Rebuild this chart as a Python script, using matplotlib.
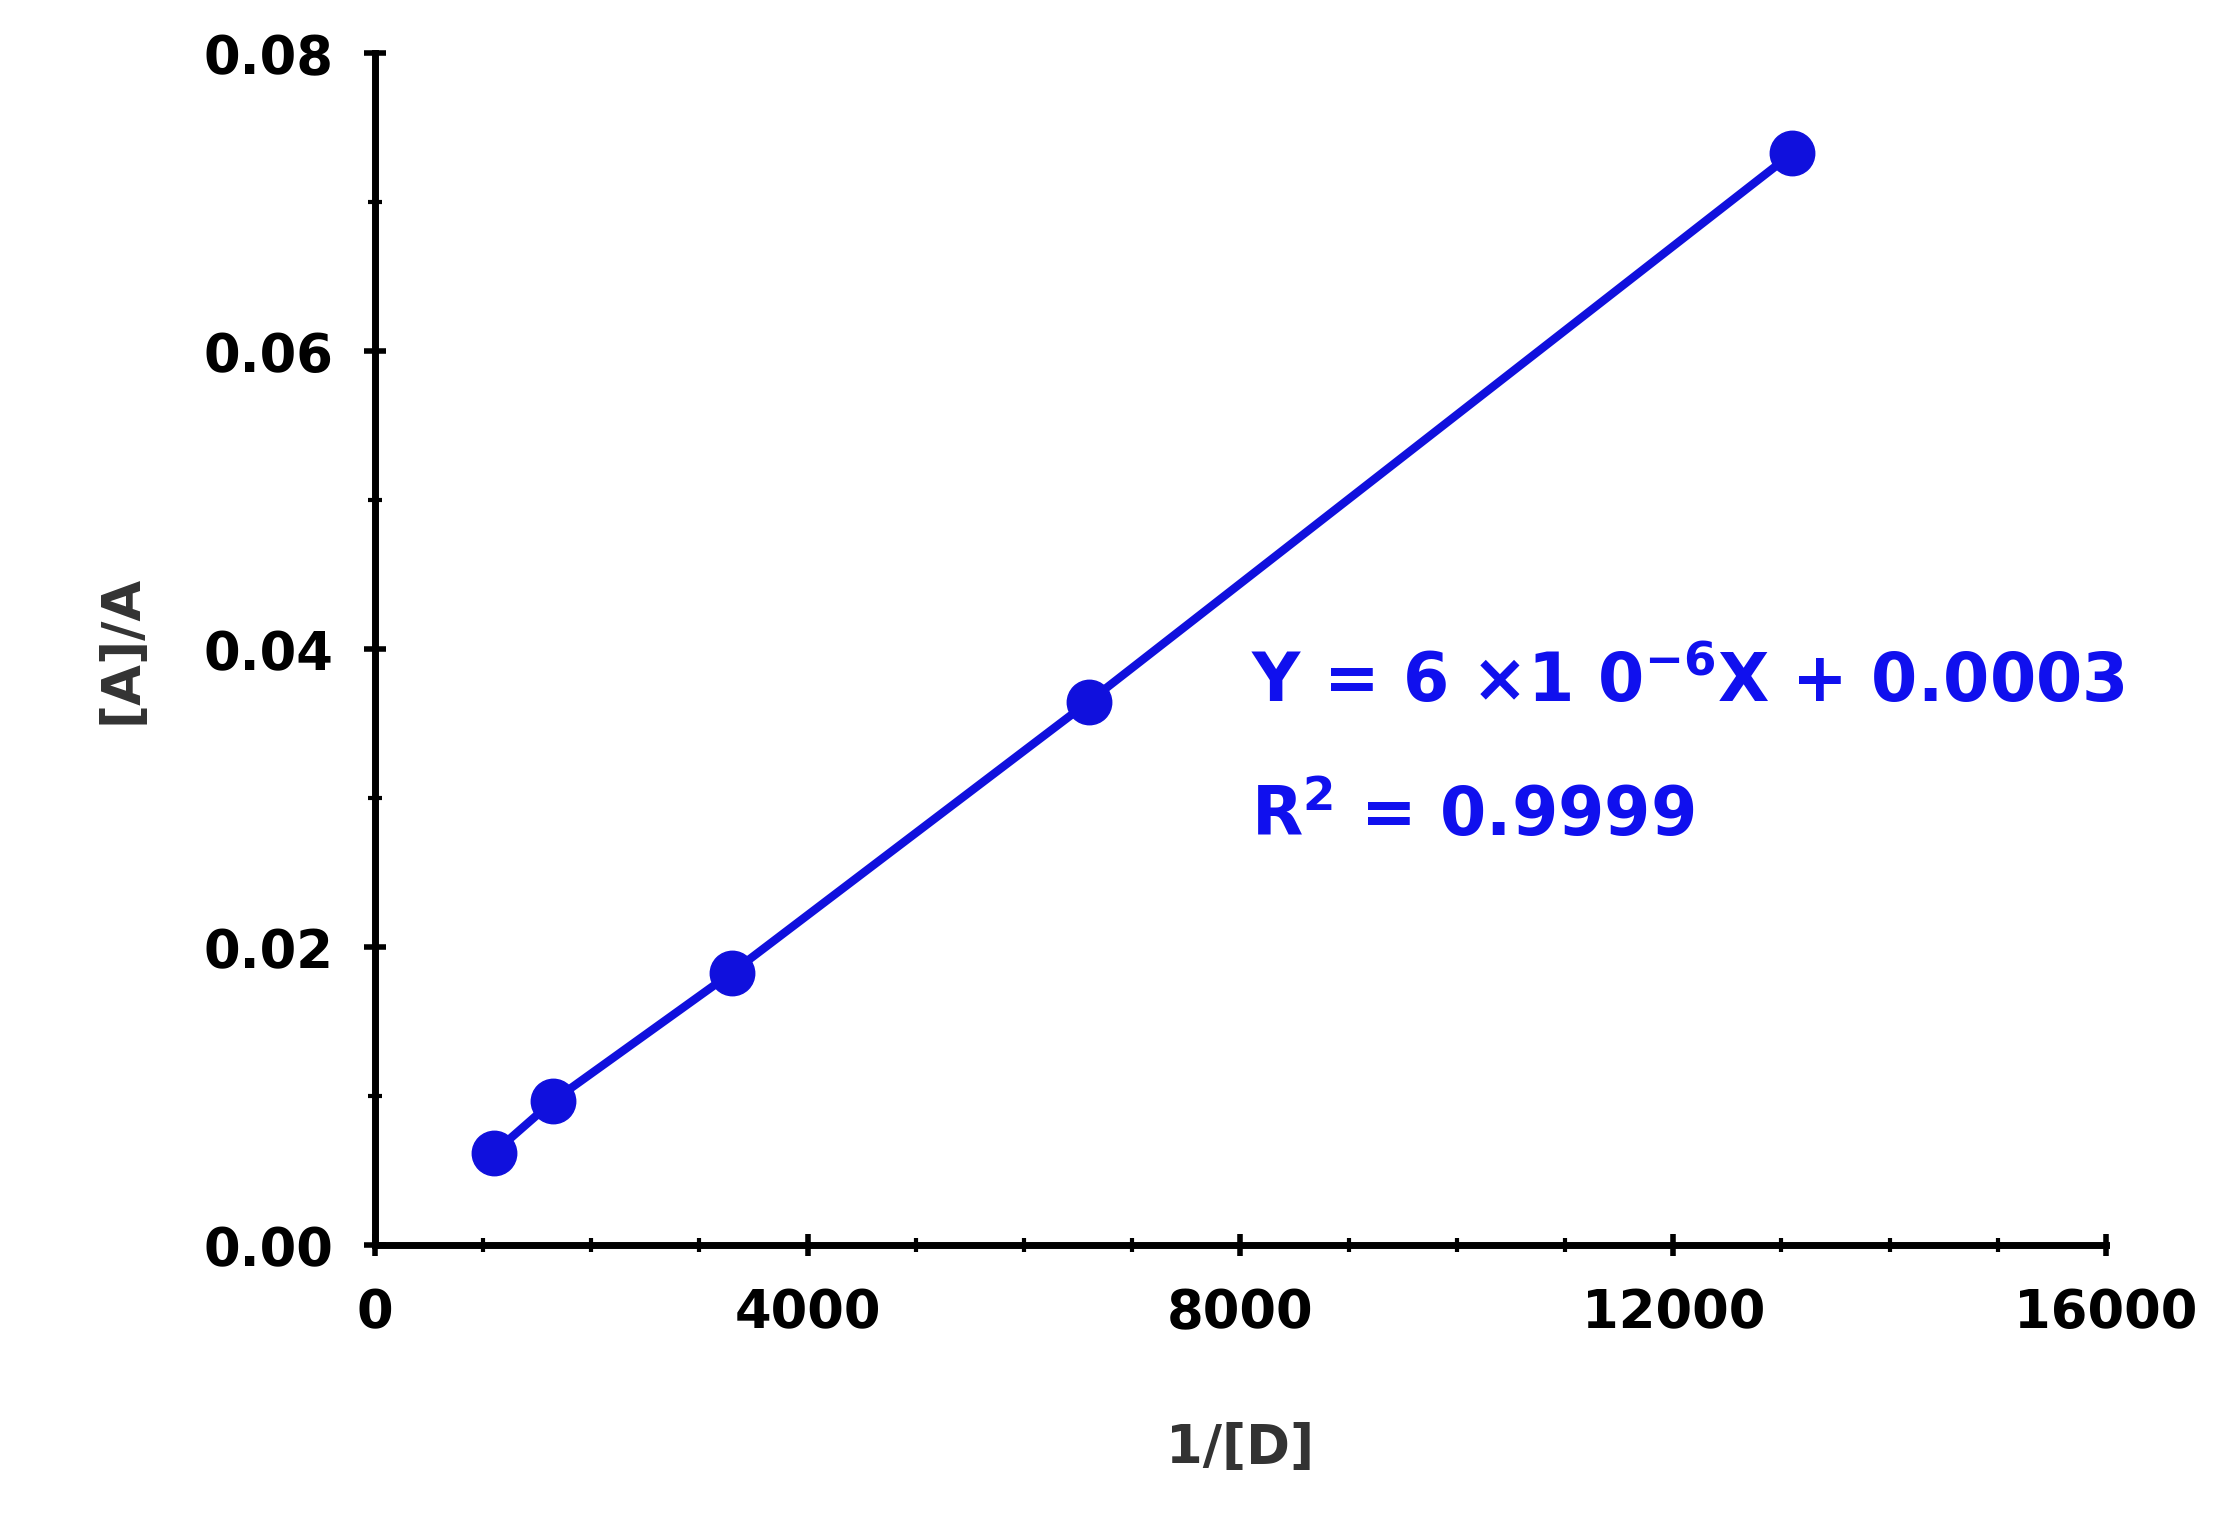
import numpy as np
import matplotlib.pyplot as plt
from matplotlib.ticker import MultipleLocator

# 数据
inv_d = [1100, 1650, 3300, 6600, 13100]
ratio = [0.0062, 0.0097, 0.0183, 0.0365, 0.0733]

plt.rcParams['font.family'] = ['DejaVu Sans']
plt.rcParams['font.weight'] = 'bold'

fig = plt.figure(figsize=(22.17, 15.28), dpi=100)
ax = fig.add_axes([0.169, 0.185, 0.781, 0.78])

ax.plot(inv_d, ratio, color='#1010dd', lw=6, marker='o', ms=32, zorder=3)

ax.set_xlim(0, 16000)
ax.set_ylim(0, 0.08)
ax.xaxis.set_major_locator(MultipleLocator(4000))
ax.xaxis.set_minor_locator(MultipleLocator(1000))
ax.yaxis.set_major_locator(MultipleLocator(0.02))
ax.yaxis.set_minor_locator(MultipleLocator(0.01))
ax.yaxis.set_major_formatter(plt.FuncFormatter(lambda v, p: '%.2f' % v))
for s in ['top', 'right']:
    ax.spines[s].set_visible(False)
for s in ['left', 'bottom']:
    ax.spines[s].set_linewidth(5)
ax.tick_params(which='major', direction='inout', length=16, width=4, labelsize=38, pad=22)
ax.tick_params(which='minor', direction='inout', length=10, width=3)

ax.set_xlabel('1/[D]', fontsize=38, fontweight='bold', color='#333333', labelpad=60)
ax.set_ylabel('[A]/A', fontsize=38, fontweight='bold', color='#333333', labelpad=40)

ax.text(8100, 0.0365, r'Y = 6 $\times$1 0$^{-6}$X + 0.0003', fontsize=48, color='#1010ee', fontweight='bold')
ax.text(8100, 0.0275, r'R$^{2}$ = 0.9999', fontsize=48, color='#1010ee', fontweight='bold')

fig.savefig('out.png')
